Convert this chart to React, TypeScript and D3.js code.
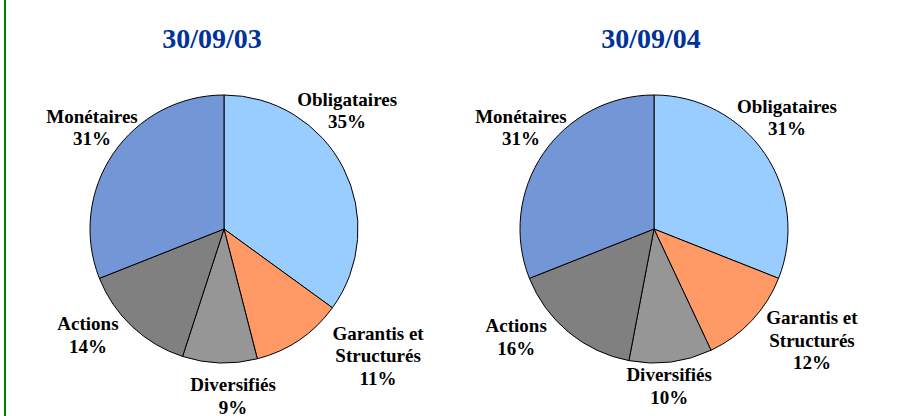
import * as d3 from 'd3';

// categories and values (percent)
const categories = ['Obligataires', 'Garantis et Structurés', 'Diversifiés', 'Actions', 'Monétaires'];
const labelLines = [['Obligataires'], ['Garantis et', 'Structurés'], ['Diversifiés'], ['Actions'], ['Monétaires']];
const titles = ['30/09/03', '30/09/04'];
const values2003 = [35, 11, 9, 14, 31];
const values2004 = [31, 12, 10, 16, 31];
const colors = ['#99CCFF', '#FF9966', '#969696', '#808080', '#7397D6'];

// label placement (angle nudge in degrees, radius factor) - excel moved them by hand
const labelLayout = [
  [[-16.9, 1.275], [-16.3, 1.49], [-4.9, 1.248], [8.9, 1.287], [3.4, 1.243]],
  [[-5.8, 1.295], [-8.1, 1.441], [1.7, 1.177], [12.3, 1.307], [3.1, 1.249]],
];

const W = 897;
const H = 416;
const R = 134;
const FONT = 'Liberation Serif, serif';

const panels = [
  { cx: 224, cy: 229, titleX: 212, values: values2003 },
  { cx: 654, cy: 229, titleX: 651, values: values2004 },
];

const pie = d3.pie<number>().sort(null).value(d => d);
const arc = d3.arc<d3.PieArcDatum<number>>().innerRadius(0).outerRadius(R);

function PieChart({ idx }: { idx: number }) {
  const p = panels[idx];
  const arcs = pie(p.values);
  return (
    <g>
      <text x={p.titleX} y={48} textAnchor="middle" fill="#003399"
        fontFamily={FONT} fontWeight="bold" fontSize={28}>
        {titles[idx]}
      </text>
      <g transform={`translate(${p.cx},${p.cy})`}>
        {arcs.map((a, i) => (
          <path key={categories[i]} d={arc(a) || ''} fill={colors[i]} stroke="#000" strokeWidth={1} />
        ))}
        {arcs.map((a, i) => {
          const [nudge, rf] = labelLayout[idx][i];
          const ang = (a.startAngle + a.endAngle) / 2 + (nudge * Math.PI) / 180;
          const x = Math.sin(ang) * R * rf;
          const y = -Math.cos(ang) * R * rf;
          const lines = [...labelLines[i], `${p.values[i]}%`];
          const lh = 22.5;
          const y0 = y - ((lines.length - 1) * lh) / 2 + 6.5;
          return (
            <text key={'l' + i} textAnchor="middle" fill="#000"
              fontFamily={FONT} fontWeight="bold" fontSize={19}>
              {lines.map((t, j) => (
                <tspan key={j} x={x} y={y0 + j * lh}>{t}</tspan>
              ))}
            </text>
          );
        })}
      </g>
    </g>
  );
}

export default function App() {
  return (
    <svg width={W} height={H} style={{ position: 'absolute', left: 0, top: 0, background: '#fff' }}>
      <rect x={0} y={0} width={W} height={H} fill="#fff" />
      <line x1={5} x2={5} y1={0} y2={H} stroke="#008000" strokeWidth={2} />
      <PieChart idx={0} />
      <PieChart idx={1} />
    </svg>
  );
}
